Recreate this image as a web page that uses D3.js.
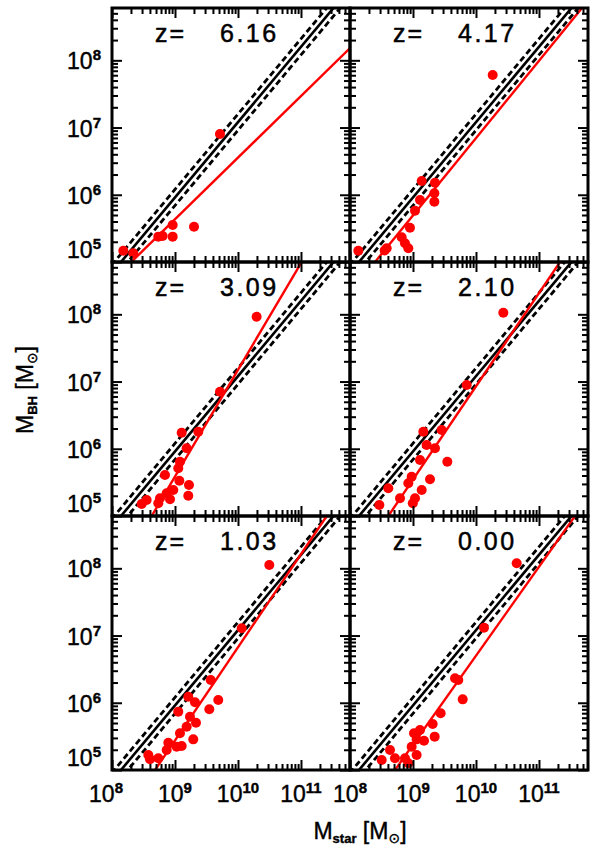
<!DOCTYPE html>
<html><head><meta charset="utf-8">
<script src="https://cdn.jsdelivr.net/npm/d3@7"></script>
<style>body{margin:0;background:#fff}svg{display:block}</style>
</head><body>
<svg id="c" width="592" height="850"></svg>
<script>
// ---------- data (log10 values) ----------
const redshifts = ["6.16", "4.17", "3.09", "2.10", "1.03", "0.00"];

const logMstar_z616 = [9.714, 9.302, 8.963, 8.963, 8.735, 8.804, 8.18, 8.338];
const logMbh_z616   = [6.904, 5.525, 5.55, 5.377, 5.377, 5.387, 5.168, 5.13];

const logMstar_z417 = [10.265, 9.138, 9.349, 9.339, 9.111, 9.339, 9.032, 8.952, 8.820, 8.873, 8.926, 8.582, 8.132, 8.55];
const logMbh_z417   = [7.781, 6.205, 6.18, 6.022, 5.922, 5.897, 5.763, 5.51, 5.367, 5.278, 5.204, 5.204, 5.168, 5.17];

const logMstar_z309 = [10.296, 9.714, 9.370, 9.106, 9.185, 9.079, 9.052, 8.841, 9.069, 9.222, 9.211, 8.973, 8.868, 8.762, 8.921, 8.55, 8.471, 8.735];
const logMbh_z309   = [7.965, 6.849, 6.254, 6.239, 6.007, 5.808, 5.71, 5.61, 5.525, 5.461, 5.302, 5.387, 5.338, 5.263, 5.248, 5.238, 5.178, 5.189];

const logMstar_z210 = [10.434, 9.852, 9.455, 9.164, 9.349, 9.217, 9.545, 9.111, 8.979, 9.27, 9.138, 9.032, 8.608, 8.794, 8.466, 8.997, 8.926];
const logMbh_z210   = [8.024, 6.949, 6.279, 6.254, 6.007, 6.056, 5.808, 5.833, 5.585, 5.546, 5.387, 5.263, 5.412, 5.263, 5.164, 5.189, 5.486];

const logMstar_z103 = [10.497, 10.059, 9.567, 9.211, 9.687, 9.545, 9.317, 9.052, 9.238, 9.333, 9.185, 9.079, 9.29, 8.894, 9.106, 9.027, 8.868, 8.577, 8.735, 8.603];
const logMbh_z103   = [8.049, 7.108, 6.339, 6.09, 6.041, 5.903, 6.007, 5.868, 5.793, 5.704, 5.644, 5.546, 5.456, 5.406, 5.357, 5.347, 5.298, 5.223, 5.174, 5.159];

const logMstar_z000 = [10.646, 10.127, 9.667, 9.719, 9.789, 9.439, 9.312, 9.111, 9.344, 9.175, 9.058, 8.979, 9.058, 8.635, 8.503, 8.714, 8.873, 8.926, 9.016];
const logMbh_z000   = [8.074, 7.117, 6.364, 6.339, 6.051, 5.843, 5.684, 5.595, 5.496, 5.436, 5.456, 5.347, 5.223, 5.298, 5.149, 5.174, 5.174, 5.1, 5.546];

// red best fits: log Mbh = fitAt1e10 + fitSlope * (log Mstar - 10)
const fitSlope  = [0.916, 1.150, 1.587, 1.386, 1.386, 1.322];
const fitAt1e10 = [6.552, 6.843, 7.174, 6.929, 6.825, 6.70];

// local relation (black): log Mbh = localNorm + localSlope*(log Mstar - 11), dashed +/- scatter
const localNorm = 8.20, localSlope = 1.12, localScatter = 0.12;

const xDomain = [1e8, 6e11];
const yDomain = [1e5, 6e8];
const xTickExps = [8, 9, 10, 11];
const yTickExps = [5, 6, 7, 8];

const panelX = [logMstar_z616, logMstar_z417, logMstar_z309, logMstar_z210, logMstar_z103, logMstar_z000];
const panelY = [logMbh_z616, logMbh_z417, logMbh_z309, logMbh_z210, logMbh_z103, logMbh_z000];

// ---------- layout ----------
const colX = [112, 350], W = 238;
const rowY = [8, 262, 516], H = 254;
const FONT = "'Liberation Sans', Arial, sans-serif";

const svg = d3.select("#c");
const defs = svg.append("defs");

function minorTicks(lo, hi) {
  const out = [];
  for (let e = Math.floor(Math.log10(lo)); e <= Math.ceil(Math.log10(hi)); e++)
    for (let k = 2; k <= 9; k++) { const v = k * Math.pow(10, e); if (v > lo && v < hi) out.push(v); }
  return out;
}
const xMajor = xTickExps.map(e => Math.pow(10, e)), yMajor = yTickExps.map(e => Math.pow(10, e));
const xMinor = minorTicks(xDomain[0], xDomain[1]), yMinor = minorTicks(yDomain[0], yDomain[1]);

redshifts.forEach((z, i) => {
  const col = i % 2, row = Math.floor(i / 2);
  const x0 = colX[col], y0 = rowY[row];
  const x = d3.scaleLog().domain(xDomain).range([x0, x0 + W]);
  const y = d3.scaleLog().domain(yDomain).range([y0 + H, y0]);
  const g = svg.append("g");
  const cid = "clip" + i;
  defs.append("clipPath").attr("id", cid).append("rect").attr("x", x0).attr("y", y0).attr("width", W).attr("height", H);
  const plot = g.append("g").attr("clip-path", `url(#${cid})`);

  const line = d3.line().x(d => x(d[0])).y(d => y(d[1]));
  const lx = [Math.log10(xDomain[0]) - 0.2, Math.log10(xDomain[1]) + 0.2];

  // local relation
  [-localScatter, 0, localScatter].forEach(off => {
    const pts = lx.map(l => [Math.pow(10, l), Math.pow(10, localNorm + off + localSlope * (l - 11))]);
    plot.append("path").attr("d", line(pts)).attr("fill", "none").attr("stroke", "#000")
      .attr("stroke-width", off === 0 ? 2.6 : 2.8).attr("stroke-dasharray", off === 0 ? null : "6,3.5");
  });

  // red fit
  const fpts = lx.map(l => [Math.pow(10, l), Math.pow(10, fitAt1e10[i] + fitSlope[i] * (l - 10))]);
  plot.append("path").attr("d", line(fpts)).attr("fill", "none").attr("stroke", "#ff0000").attr("stroke-width", 2.4);

  // points
  plot.selectAll("circle").data(panelX[i].map((v, k) => [Math.pow(10, v), Math.pow(10, panelY[i][k])]))
    .join("circle").attr("cx", d => x(d[0])).attr("cy", d => y(d[1])).attr("r", 5).attr("fill", "#ff0000");

  // axes (ticks inward on all four sides)
  const mk = (axisFn, scale, vals, size, tr) => {
    const a = g.append("g").attr("transform", tr)
      .call(axisFn(scale).tickValues(vals).tickSize(size).tickFormat(""));
    a.select(".domain").remove();
    a.selectAll("line").attr("stroke", "#000").attr("stroke-width", 2);
  };
  mk(d3.axisBottom, x, xMajor, -10, `translate(0,${y0 + H})`);
  mk(d3.axisBottom, x, xMinor, -6, `translate(0,${y0 + H})`);
  mk(d3.axisTop, x, xMajor, -10, `translate(0,${y0})`);
  mk(d3.axisTop, x, xMinor, -6, `translate(0,${y0})`);
  mk(d3.axisLeft, y, yMajor, -10, `translate(${x0},0)`);
  mk(d3.axisLeft, y, yMinor, -6, `translate(${x0},0)`);
  mk(d3.axisRight, y, yMajor, -10, `translate(${x0 + W},0)`);
  mk(d3.axisRight, y, yMinor, -6, `translate(${x0 + W},0)`);

  g.append("rect").attr("x", x0).attr("y", y0).attr("width", W).attr("height", H)
    .attr("fill", "none").attr("stroke", "#000").attr("stroke-width", 3);

  // redshift label
  g.append("text").attr("x", x0 + 43).attr("y", y0 + 34).attr("font-family", FONT).attr("font-size", 25)
    .attr("stroke", "#000").attr("stroke-width", 0.5).attr("letter-spacing", 2).text("z=");
  g.append("text").attr("x", x0 + 108).attr("y", y0 + 34).attr("font-family", FONT).attr("font-size", 25)
    .attr("stroke", "#000").attr("stroke-width", 0.5).attr("letter-spacing", 2.5).text(z);

  // y tick labels (left column)
  if (col === 0) {
    yTickExps.forEach((e, k) => {
      let ty = y(Math.pow(10, e)) + 9;
      if (k === 0) ty -= 13;
      const t = g.append("text").attr("x", x0 - 11).attr("y", ty).attr("text-anchor", "end")
        .attr("font-family", FONT).attr("font-size", 23).attr("stroke", "#000").attr("stroke-width", 0.4);
      t.append("tspan").text("10");
      t.append("tspan").attr("dy", -9).attr("font-size", 15).attr("font-weight", "bold").text(e);
    });
  }
  // x tick labels (bottom row)
  if (row === 2) {
    xTickExps.forEach((e, k) => {
      const t = g.append("text").attr("x", x(Math.pow(10, e)) - (col === 0 && k === 0 ? 6 : 0)).attr("y", 802)
        .attr("text-anchor", "middle").attr("font-family", FONT).attr("font-size", 23)
        .attr("stroke", "#000").attr("stroke-width", 0.4);
      t.append("tspan").text("10");
      t.append("tspan").attr("dy", -9).attr("font-size", 15).attr("font-weight", "bold").text(e);
    });
  }
});

// axis titles
const xt = svg.append("text").attr("x", 360).attr("y", 839).attr("text-anchor", "middle")
  .attr("font-family", FONT).attr("font-size", 23).attr("stroke", "#000").attr("stroke-width", 0.4);
xt.append("tspan").text("M");
xt.append("tspan").attr("dy", 4).attr("font-size", 13).attr("font-weight", "bold").text("star");
xt.append("tspan").attr("dy", -4).text(" [M");
xt.append("tspan").attr("dy", 4).attr("font-size", 14).attr("font-family", "'DejaVu Sans'").text("⊙");
xt.append("tspan").attr("dy", -4).text("]");

const yt = svg.append("text").attr("transform", "translate(33,390) rotate(-90)").attr("text-anchor", "middle")
  .attr("font-family", FONT).attr("font-size", 23).attr("stroke", "#000").attr("stroke-width", 0.4);
yt.append("tspan").text("M");
yt.append("tspan").attr("dy", 4).attr("font-size", 13).attr("font-weight", "bold").text("BH");
yt.append("tspan").attr("dy", -4).text(" [M");
yt.append("tspan").attr("dy", 4).attr("font-size", 14).attr("font-family", "'DejaVu Sans'").text("⊙");
yt.append("tspan").attr("dy", -4).text("]");
</script>
</body></html>
